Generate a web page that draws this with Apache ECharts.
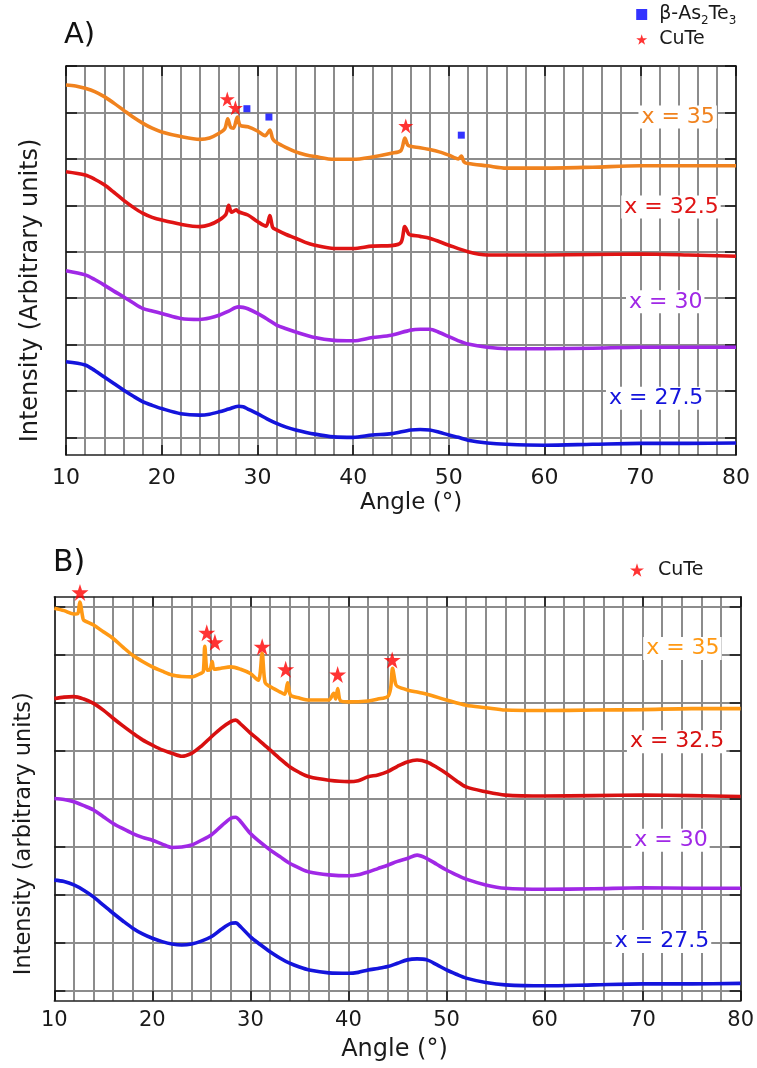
<!DOCTYPE html>
<html><head><meta charset="utf-8">
<script src="https://cdn.jsdelivr.net/npm/echarts@6/dist/echarts.min.js"></script>
<style>html,body{margin:0;padding:0;background:#fff}#c{width:757px;height:1068px}</style>
</head><body><div id="c"></div>
<script>
// ---------- data ----------
const angleTicks = [10, 20, 30, 40, 50, 60, 70, 80];
const offsetLevels = [0, 1, 2, 3, 4, 5, 6, 7, 8];
const sampleNames = ['x = 35', 'x = 32.5', 'x = 30', 'x = 27.5'];

// Panel A (intensity in offset units)
const A_x35 = [[10,7.59],[11,7.57],[12,7.52],[13,7.45],[14,7.34],[15,7.2],[16,7.05],[17,6.9],[18,6.77],[19,6.66],[20,6.58],[22,6.48],[24,6.42],[25,6.45],[26,6.55],[26.6,6.65],[26.9,6.86],[27.2,6.68],[27.5,6.66],[27.9,6.9],[28.2,6.72],[29,6.69],[30,6.6],[30.8,6.5],[31.3,6.62],[31.6,6.43],[32,6.35],[33,6.24],[34,6.15],[35,6.09],[36,6.05],[38,5.99],[40,5.99],[42,6.04],[44,6.12],[45,6.18],[45.4,6.45],[45.7,6.3],[46,6.27],[47,6.24],[48,6.2],[49,6.15],[50,6.08],[51,6.0],[51.3,6.06],[51.6,5.93],[52,5.9],[54,5.85],[56,5.8],[60,5.8],[65,5.82],[70,5.85],[75,5.85],[80,5.85]];
const A_x325 = [[10,5.72],[12,5.65],[13,5.56],[14,5.44],[15,5.28],[16,5.11],[17,4.96],[18,4.83],[19,4.74],[20,4.68],[22,4.59],[24,4.54],[25,4.58],[26,4.68],[26.7,4.8],[27,5.0],[27.3,4.85],[27.8,4.9],[28,4.86],[29,4.79],[30,4.65],[30.9,4.55],[31.3,4.78],[31.6,4.52],[32,4.47],[33,4.37],[34,4.29],[35,4.2],[36,4.14],[38,4.07],[40,4.07],[42,4.12],[44,4.13],[45,4.2],[45.4,4.54],[45.8,4.38],[46,4.36],[47,4.33],[48,4.29],[50,4.14],[52,4.0],[54,3.93],[56,3.93],[60,3.93],[65,3.94],[70,3.95],[75,3.93],[80,3.9]];
const A_x30 = [[10,3.59],[12,3.5],[13,3.4],[14,3.28],[15,3.15],[16,3.03],[17,2.9],[18,2.78],[19,2.72],[20,2.67],[22,2.56],[24,2.54],[25,2.57],[26,2.63],[27,2.72],[28,2.81],[28.5,2.8],[29,2.77],[30,2.67],[31,2.55],[32,2.42],[33,2.34],[34,2.27],[36,2.15],[38,2.09],[40,2.08],[42,2.15],[44,2.2],[46,2.31],[47,2.33],[48,2.33],[49,2.26],[50,2.17],[51,2.08],[52,2.01],[54,1.94],[56,1.91],[60,1.91],[65,1.92],[70,1.94],[75,1.94],[80,1.94]];
const A_x275 = [[10,1.63],[12,1.56],[13,1.44],[14,1.3],[15,1.16],[16,1.02],[17,0.89],[18,0.77],[19,0.69],[20,0.62],[22,0.51],[24,0.48],[25,0.5],[26,0.55],[27,0.61],[28,0.67],[28.5,0.66],[29,0.61],[30,0.51],[31,0.4],[32,0.3],[33,0.22],[34,0.16],[36,0.07],[38,0.01],[40,0.0],[42,0.05],[44,0.08],[46,0.16],[47,0.17],[48,0.16],[49,0.11],[50,0.05],[51,0.0],[52,-0.06],[54,-0.12],[56,-0.15],[60,-0.17],[65,-0.15],[70,-0.13],[75,-0.13],[80,-0.12]];
const A_CuTe = [[26.85,7.29],[27.7,7.10],[45.5,6.71]];
const A_As2Te3 = [[28.9,7.08],[31.2,6.90],[51.3,6.51]];

// Panel B
const B_x35 = [[10,7.97],[11,7.92],[12,7.85],[12.4,7.86],[12.6,8.1],[12.9,7.78],[13,7.72],[14,7.62],[15,7.48],[16,7.34],[17,7.16],[18,6.99],[19,6.86],[20,6.75],[21,6.66],[22,6.58],[23,6.55],[24,6.54],[25,6.62],[25.2,6.65],[25.35,7.18],[25.6,6.68],[25.9,6.7],[26.1,6.86],[26.3,6.7],[27,6.72],[28,6.75],[29,6.7],[30,6.61],[30.8,6.47],[31.2,7.03],[31.5,6.42],[32,6.34],[33,6.23],[33.5,6.18],[33.8,6.42],[34.1,6.16],[35,6.1],[36,6.06],[37,6.06],[38,6.06],[38.5,6.2],[38.7,6.08],[38.9,6.3],[39.2,6.04],[40,6.02],[42,6.04],[43,6.08],[44,6.13],[44.3,6.3],[44.5,6.72],[44.8,6.4],[45,6.34],[46,6.27],[48,6.18],[50,6.06],[52,5.95],[54,5.9],[56,5.85],[60,5.84],[65,5.85],[70,5.86],[75,5.88],[80,5.88]];
const B_x325 = [[10,6.09],[11,6.12],[12,6.13],[13,6.08],[14,5.99],[15,5.85],[16,5.68],[17,5.52],[18,5.37],[19,5.23],[20,5.12],[21,5.02],[22,4.95],[23,4.89],[24,4.95],[25,5.1],[26,5.29],[27,5.47],[28,5.61],[28.5,5.64],[29,5.56],[30,5.37],[31,5.2],[32,5.02],[33,4.84],[34,4.67],[35,4.55],[36,4.46],[38,4.39],[40,4.36],[41,4.38],[42,4.46],[43,4.5],[44,4.57],[45,4.68],[46,4.77],[47,4.81],[48,4.77],[49,4.66],[50,4.53],[51,4.38],[52,4.25],[54,4.15],[56,4.08],[60,4.06],[65,4.07],[70,4.08],[75,4.07],[80,4.05]];
const B_x30 = [[10,4.01],[11,3.99],[12,3.94],[13,3.86],[14,3.77],[15,3.63],[16,3.49],[17,3.38],[18,3.28],[19,3.2],[20,3.14],[21,3.06],[22,2.99],[23,3.0],[24,3.04],[25,3.14],[26,3.25],[27,3.43],[28,3.6],[28.5,3.62],[29,3.53],[30,3.28],[31,3.1],[32,2.94],[33,2.8],[34,2.66],[35,2.56],[36,2.48],[38,2.42],[40,2.4],[41,2.42],[42,2.48],[43,2.55],[44,2.62],[45,2.7],[46,2.76],[47,2.83],[48,2.76],[49,2.64],[50,2.52],[51,2.42],[52,2.33],[54,2.21],[56,2.14],[60,2.12],[65,2.13],[70,2.15],[75,2.14],[80,2.14]];
const B_x275 = [[10,2.31],[11,2.28],[12,2.21],[13,2.1],[14,1.96],[15,1.79],[16,1.62],[17,1.46],[18,1.31],[19,1.19],[20,1.1],[21,1.03],[22,0.98],[23,0.96],[24,0.98],[25,1.04],[26,1.13],[27,1.28],[28,1.41],[28.5,1.42],[29,1.34],[30,1.13],[31,0.97],[32,0.82],[33,0.69],[34,0.58],[35,0.5],[36,0.44],[38,0.38],[40,0.37],[41,0.39],[42,0.44],[43,0.47],[44,0.51],[45,0.58],[46,0.65],[47,0.67],[48,0.65],[49,0.55],[50,0.44],[51,0.35],[52,0.27],[54,0.18],[56,0.13],[60,0.11],[65,0.13],[70,0.15],[75,0.15],[80,0.16]];
const B_CuTe = [[12.62,8.30],[25.55,7.46],[26.38,7.26],[31.2,7.17],[33.6,6.70],[38.9,6.59],[44.46,6.89]];

// ---------- styling ----------
const FONT = 'DejaVu Sans';
const GRID_C = '#8c8c8c';
const FRAME_C = '#222';
const starPath = 'path://M50,0L61.2,34.5L97.6,34.5L68.2,55.9L79.4,90.5L50,69.1L20.6,90.5L31.8,55.9L2.4,34.5L38.8,34.5Z';
const colA = ['#f0821e', '#e01414', '#a028e6', '#1414dc'];
const colB = ['#ff9914', '#d81010', '#a028e6', '#1414dc'];

function xAx(grid, pos, labels, name, nameSize, nameGap, namePad, labelSize, labelMargin) {
  return {
    type: 'value', gridIndex: grid, position: pos, min: 10, max: 80, interval: 10,
    axisLine: { show: true, onZero: false, lineStyle: { color: FRAME_C, width: 1.5 } },
    axisTick: { show: true, inside: true, length: 10, lineStyle: { color: '#111', width: 1.5 } },
    axisLabel: { show: labels, fontSize: labelSize, margin: labelMargin, color: '#1a1a1a', fontFamily: FONT },
    splitLine: { show: labels, lineStyle: { color: GRID_C, width: 2 } },
    minorTick: { show: false, splitNumber: 5 },
    minorSplitLine: { show: labels, lineStyle: { color: GRID_C, width: 2 } },
    name: labels ? name : '', nameLocation: 'middle', nameGap: nameGap,
    nameTextStyle: { fontSize: nameSize, color: '#1a1a1a', fontFamily: FONT, padding: namePad }
  };
}
function yAx(grid, pos, min, max, main, name, nameSize, nameGap, namePad) {
  return {
    type: 'value', gridIndex: grid, position: pos, min: min, max: max,
    axisLine: { show: true, onZero: false, lineStyle: { color: FRAME_C, width: 1.5 } },
    axisTick: { show: true, inside: true, length: 11, customValues: offsetLevels, lineStyle: { color: '#111', width: 1.5 } },
    axisLabel: { show: false, customValues: offsetLevels },
    splitLine: { show: main, lineStyle: { color: GRID_C, width: 2 } },
    name: main ? name : '', nameLocation: 'middle', nameGap: nameGap,
    nameTextStyle: { fontSize: nameSize, color: '#1a1a1a', fontFamily: FONT, padding: namePad }
  };
}
function trace(data, color, xi, yi, label, lx, ly) {
  return {
    type: 'line', data: data, xAxisIndex: xi, yAxisIndex: yi, showSymbol: false, symbol: 'none',
    smooth: 0.3, lineStyle: { color: color, width: 3.6 }, itemStyle: { color: color }, z: 3,
    markPoint: {
      symbol: 'rect', symbolSize: 0, silent: true, animation: false,
      label: { show: true, position: 'left', distance: 0, formatter: label, color: color,
               fontSize: 22, fontFamily: FONT, backgroundColor: '#fff', padding: [1, 2, 0, 3] },
      data: [{ coord: [lx, ly] }]
    }
  };
}
function markers(name, data, symbol, size, color, xi, yi) {
  return { type: 'scatter', name: name, data: data, xAxisIndex: xi, yAxisIndex: yi, symbol: symbol,
           symbolSize: size, itemStyle: { color: color }, clip: false, z: 5, silent: true };
}

const legendRich = { s: { fontSize: 12, fontFamily: FONT, color: '#1a1a1a', verticalAlign: 'bottom', lineHeight: 24 },
                     p: { width: 7 }, q: { width: 9 } };

const chart = echarts.init(document.getElementById('c'), null, { renderer: 'canvas' });
chart.setOption({
  animation: false,
  textStyle: { fontFamily: FONT },
  title: [
    { text: 'A)', left: 64, top: 21, padding: 0, textStyle: { fontSize: 29, fontWeight: 'normal', color: '#111', fontFamily: FONT } },
    { text: 'B)', left: 53, top: 548, padding: 0, textStyle: { fontSize: 30, fontWeight: 'normal', color: '#111', fontFamily: FONT } }
  ],
  legend: [
    { orient: 'vertical', left: 636.2, top: 2.5, padding: 0, itemWidth: 11, itemHeight: 11, itemGap: 1, selectedMode: false,
      data: [{ name: 'β-As2Te3', icon: 'rect' }, { name: 'CuTe', icon: starPath }],
      formatter: function (n) { return n === 'CuTe' ? '{p|}CuTe' : '{p|}β-As{s|2}Te{s|3}'; },
      textStyle: { fontSize: 19, color: '#1a1a1a', fontFamily: FONT, lineHeight: 24, rich: legendRich } },
    { orient: 'vertical', left: 630, top: 558, padding: 0, itemWidth: 14, itemHeight: 14, selectedMode: false,
      data: [{ name: 'CuTe', icon: starPath }],
      formatter: '{q|}{name}',
      textStyle: { fontSize: 19, color: '#1a1a1a', fontFamily: FONT, lineHeight: 24, rich: legendRich } }
  ],
  grid: [
    { left: 66, top: 66, width: 670, height: 389, containLabel: false },
    { left: 54.3, top: 596.7, width: 686.7, height: 404, containLabel: false }
  ],
  xAxis: [
    xAx(0, 'bottom', true, 'Angle (°)', 23, 37, [0, 0, 0, 20], 22, 12.5),
    xAx(0, 'top', false, '', 23, 37, 0, 22, 12),
    xAx(1, 'bottom', true, 'Angle (°)', 24, 37, [0, 6, 0, 0], 21, 9),
    xAx(1, 'top', false, '', 24, 37, 0, 21, 9)
  ],
  yAxis: [
    yAx(0, 'left', -0.38, 8, true, 'Intensity (Arbitrary units)', 24, 23, [0, 60, 0, 0]),
    yAx(0, 'right', -0.38, 8, false, '', 24, 23, 0),
    yAx(1, 'left', -0.2, 8.21, true, 'Intensity (arbitrary units)', 22.5, 19, [0, 70, 0, 0]),
    yAx(1, 'right', -0.2, 8.21, false, '', 22.5, 19, 0)
  ],
  series: [
    trace(A_x35, colA[0], 0, 0, sampleNames[0], 78.0, 6.90),
    trace(A_x325, colA[1], 0, 0, sampleNames[1], 78.4, 4.96),
    trace(A_x30, colA[2], 0, 0, sampleNames[2], 76.7, 2.92),
    trace(A_x275, colA[3], 0, 0, sampleNames[3], 76.8, 0.84),
    markers('CuTe', A_CuTe, starPath, 15, '#ff0000', 0, 0),
    markers('β-As2Te3', A_As2Te3, 'rect', 7, '#0000ff', 0, 0),
    trace(B_x35, colB[0], 2, 2, sampleNames[0], 78.06, 7.13),
    trace(B_x325, colB[1], 2, 2, sampleNames[1], 78.54, 5.19),
    trace(B_x30, colB[2], 2, 2, sampleNames[2], 76.84, 3.14),
    trace(B_x275, colB[3], 2, 2, sampleNames[3], 77.0, 1.03),
    markers('CuTe', B_CuTe, starPath, 17, '#ff0000', 2, 2)
  ]
});
</script></body></html>
